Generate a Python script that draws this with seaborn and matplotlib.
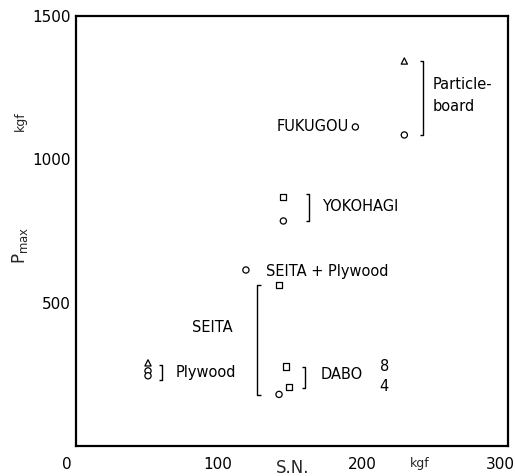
import matplotlib
matplotlib.use("Agg")
import matplotlib.pyplot as plt
import matplotlib.transforms as mtransforms
import seaborn as sns
import pandas as pd

# ---- data ----
sn_values = [228, 228, 194, 144, 144, 118, 141, 146, 148, 141, 50, 50, 50]
pmax_values = [1343, 1085, 1113, 869, 785, 614, 562, 277, 207, 180, 290, 262, 245]
marker_shapes = ["triangle", "circle", "circle", "square", "circle", "circle",
                 "square", "square", "square", "circle", "triangle", "circle", "circle"]
x_ticks = [0, 100, 200, 300]
y_ticks = [500, 1000, 1500]

# annotation brackets: (x, y_low, y_high, hook direction)
brackets = [
    (241, 1085, 1343, -1),   # Particleboard
    (162, 785, 880, -1),     # YOKOHAGI
    (126, 178, 562, 1),      # SEITA
    (60, 230, 283, -1),      # Plywood
    (159, 202, 276, -1),     # DABO
]
# annotation labels: (x, y, text, ha)
labels = [
    (248, 1222, "Particle-\nboard", "left"),
    (139, 1113, "FUKUGOU", "left"),
    (171, 834, "YOKOHAGI", "left"),
    (132, 607, "SEITA + Plywood", "left"),
    (95, 412, "SEITA", "center"),
    (69, 258, "Plywood", "left"),
    (170, 248, "DABO", "left"),
    (214, 276, "8", "center"),
    (214, 206, "4", "center"),
]

sns.set_theme(style="white")
plt.rcParams["font.family"] = ["DejaVu Sans"]

fig = plt.figure(figsize=(5.15, 4.76), dpi=100)
ax = fig.add_axes([76 / 515, 30 / 476, 432 / 515, 430 / 476])

df = pd.DataFrame({"sn": sn_values, "pmax": pmax_values, "shape": marker_shapes})
sns.scatterplot(data=df, x="sn", y="pmax", style="shape",
                markers={"circle": "o", "square": "s", "triangle": "^"},
                s=20, color="white", edgecolor="black", linewidth=0.9,
                legend=False, ax=ax, zorder=3)

ax.set_xlim(0, 300)
ax.set_ylim(0, 1500)
ax.set_xticks(x_ticks)
ax.set_yticks(y_ticks)
ax.set_xticklabels([str(v) for v in x_ticks], fontsize=11)
ax.set_yticklabels([str(v) for v in y_ticks], fontsize=11)
ax.tick_params(direction="in", length=4, width=1.2, colors="black", pad=4)
ax.tick_params(axis="x", pad=8)
ax.set_xlabel("")
ax.set_ylabel("")
for sp in ax.spines.values():
    sp.set_visible(True)
    sp.set_color("black")
    sp.set_linewidth(1.6)

# nudge x tick labels as in the reference
shifts = {0: -9, 300: -8}
for lab, v in zip(ax.get_xticklabels(), x_ticks):
    dx = shifts.get(v, -2)
    lab.set_transform(lab.get_transform() + mtransforms.ScaledTranslation(dx / 100, 0, fig.dpi_scale_trans))

hook = 2.2
for bx, y0, y1, d in brackets:
    ax.plot([bx + d * hook, bx, bx, bx + d * hook], [y0, y0, y1, y1],
            color="black", lw=1.0, solid_capstyle="butt")

for tx, ty, txt, ha in labels:
    ax.text(tx, ty, txt, ha=ha, va="center", fontsize=10.5, color="black",
            linespacing=1.6)

fig.text(20 / 515, 1 - 245 / 476, r"$\mathregular{P_{max}}$", rotation=90,
         ha="center", va="center", fontsize=12)
fig.text(20 / 515, 1 - 121 / 476, "kgf", rotation=90, ha="center", va="center", fontsize=9)
fig.text(293 / 515, 1 - 468 / 476, "S.N.", ha="center", va="center", fontsize=12)
fig.text(420 / 515, 1 - 464 / 476, "kgf", ha="center", va="center", fontsize=9)

fig.savefig("out.png", dpi=100, facecolor="white")
